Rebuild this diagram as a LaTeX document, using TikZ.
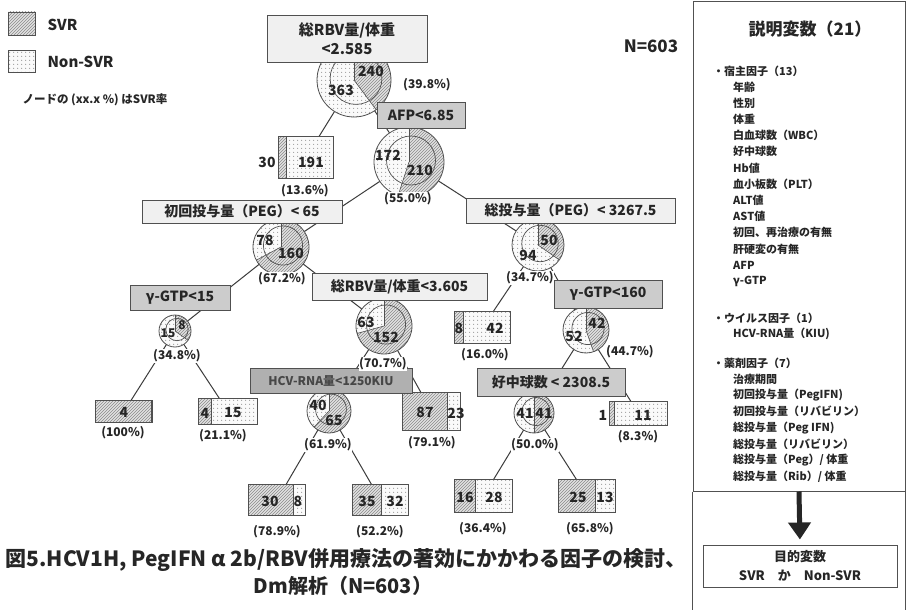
\documentclass[tikz,border=0pt]{standalone}
\usepackage{fontspec}
\setmainfont{Noto Sans CJK JP}
\usetikzlibrary{patterns,arrows.meta,calc}
\pgfdeclarelayer{back}
\pgfdeclarelayer{bg}
\pgfsetlayers{back,bg,main}
\pgfdeclarepatternformonly{mydots}{\pgfpointorigin}{\pgfpoint{4pt}{4pt}}{\pgfpoint{4pt}{4pt}}{%
  \pgfpathcircle{\pgfpoint{2pt}{2pt}}{0.75pt}\pgfusepath{fill}}
\definecolor{ink}{HTML}{262626}
\definecolor{edge}{HTML}{505050}
\definecolor{hatchbg}{HTML}{E2E2E2}
\definecolor{hatchfg}{HTML}{8A8A8A}
\definecolor{dotfg}{HTML}{A0A0A0}
\tikzset{
  svrfill/.style={preaction={fill=hatchbg}, pattern=north east lines, pattern color=hatchfg},
  nonfill/.style={preaction={fill=gray!4}, pattern=mydots, pattern color=dotfg},
  lightbox/.style={draw=edge, fill=gray!12, line width=0.9pt, inner sep=0pt, align=center,
    font=\bfseries\fontsize{14}{17}\selectfont, text=ink},
  midbox/.style={lightbox, fill=gray!40},
  darkbox/.style={lightbox, fill=gray!62, text=black!72, font=\bfseries\fontsize{12}{14}\selectfont},
  pct/.style={font=\bfseries\fontsize{12}{14}\selectfont, text=ink, fill=white, inner sep=0.5pt},
  num/.style={font=\bfseries\fontsize{14}{16}\selectfont, text=ink, inner sep=0pt},
  smallnum/.style={font=\bfseries\fontsize{12}{14}\selectfont, text=ink, inner sep=0pt},
  conn/.style={draw=ink!90, line width=1pt},
  paneltxt/.style={font=\bfseries\fontsize{11}{13}\selectfont, text=ink, inner sep=0pt, anchor=west},
  frame/.style={draw=ink!80, line width=1pt},
}
% pie: name, x, y, R, svr fraction
\newcommand\mypie[5]{%
  \node[circle, inner sep=0pt, minimum size={2*#4*1pt}, nonfill] (#1) at (#2,#3) {};
  \pgfmathsetmacro\pieend{-90+360*#5}%
  \fill[svrfill] (#1.center) -- ++(-90:#4) arc[start angle=-90, end angle=\pieend, radius=#4] -- cycle;
  \draw[edge, line width=0.6pt] (#1.center) -- ++(-90:#4);
  \draw[edge, line width=0.6pt] (#1.center) -- ++(\pieend:#4);
  \draw[edge, line width=0.7pt] ($(#1.center)+(2,-1.5)$) circle (0.7*#4);
  \draw[edge, line width=0.8pt] (#1.center) circle (#4);
}
% leaf: name, cx, cy, w, h, svr fraction
\newcommand\myleaf[6]{%
  \node[minimum width={#4*1pt}, minimum height={#5*1pt}, inner sep=0pt, nonfill] (#1) at (#2,#3) {};
  \fill[svrfill] (#1.north west) rectangle ($(#1.south west)+(#4*#6,0)$);
  \draw[edge, line width=0.8pt] ($(#1.north west)+(#4*#6,0)$) -- ($(#1.south west)+(#4*#6,0)$);
  \draw[edge, line width=0.9pt] (#1.north west) rectangle (#1.south east);
}
\begin{document}
\begin{tikzpicture}[x=1pt,y=-1pt]
\useasboundingbox (0,0) rectangle (908,610);
\begin{pgfonlayer}{back}
\fill[white] (0,0) rectangle (908,610);
\end{pgfonlayer}

% ---------- legend ----------
\node[draw=edge, line width=0.8pt, svrfill, minimum width=27pt, minimum height=23pt, inner sep=0pt] (legsvr) at (21.5,23.5) {};
\node[anchor=west, font=\bfseries\fontsize{15}{17}\selectfont, text=ink] (legsvrt) at (44,25) {SVR};
\node[draw=edge, line width=0.8pt, nonfill, minimum width=27pt, minimum height=22pt, inner sep=0pt] (legnon) at (21.5,61) {};
\node[anchor=west, font=\bfseries\fontsize{15}{17}\selectfont, text=ink] (legnont) at (44,62) {Non-SVR};
\node[anchor=west, font=\bfseries\fontsize{11.5}{13}\selectfont, text=ink] (legnote) at (19,100) {ノードの (xx.x \%) はSVR率};
\node[font=\bfseries\fontsize{17}{19}\selectfont, text=ink] (ntot) at (651,46) {N=603};

% ---------- pies ----------
\mypie{p0}{354}{80}{37}{0.398}
\mypie{p1}{409}{162}{35}{0.55}
\mypie{p2}{281}{247}{28}{0.672}
\mypie{p3}{538}{245}{26}{0.347}
\mypie{p4}{175}{331}{16}{0.348}
\mypie{p5}{384}{326}{28}{0.707}
\mypie{p6}{586}{330}{23}{0.447}
\mypie{p7}{329}{411}{22}{0.619}
\mypie{p8}{534}{413}{20}{0.5}

% ---------- leaves ----------
\myleaf{l1}{306}{157.5}{54}{41}{0.136}
\myleaf{l2}{482.5}{327.5}{55}{31}{0.16}
\myleaf{l3}{124}{411.5}{56}{21}{1.0}
\myleaf{l4}{228}{411.5}{58}{25}{0.211}
\myleaf{l5}{431.5}{411.5}{57}{37}{0.791}
\myleaf{l6}{638.5}{413.5}{57}{23}{0.083}
\myleaf{l7}{277}{500}{56}{30}{0.789}
\myleaf{l8}{380.5}{500}{55}{30}{0.522}
\myleaf{l9}{483.5}{496}{57}{32}{0.364}
\myleaf{l10}{587}{496}{56}{32}{0.658}

% ---------- split boxes ----------
\node[lightbox, minimum width=160pt, minimum height=47pt, font=\bfseries\fontsize{15}{19}\selectfont] (b0) at (347,38.5) {総RBV量/体重\\<2.585};
\node[midbox, minimum width=88pt, minimum height=26pt] (b1) at (421,115) {AFP<6.85};
\node[lightbox, minimum width=200pt, minimum height=23pt] (b2) at (242,211.5) {初回投与量（PEG）< 65};
\node[lightbox, minimum width=209pt, minimum height=25pt] (b3) at (570.5,210.5) {総投与量（PEG）< 3267.5};
\node[midbox, minimum width=100pt, minimum height=25pt] (b4) at (180,297.5) {γ-GTP<15};
\node[lightbox, minimum width=175pt, minimum height=27pt] (b5) at (399.5,286.5) {総RBV量/体重<3.605};
\node[midbox, minimum width=108pt, minimum height=28pt] (b6) at (608,294) {γ-GTP<160};
\node[darkbox, minimum width=162pt, minimum height=25pt] (b7) at (331,380.5) {HCV-RNA量<1250KIU};
\node[midbox, minimum width=148pt, minimum height=28pt] (b8) at (551,382) {好中球数 < 2308.5};

% ---------- connectors ----------
\begin{pgfonlayer}{bg}
\draw[conn] (p0.center) -- (p1.center);
\draw[conn] (p0.center) -- (l1.center);
\draw[conn] (p1.center) -- (p2.center);
\draw[conn] (p1.center) -- (p3.center);
\draw[conn] (p2.center) -- (p4.center);
\draw[conn] (p2.center) -- (p5.center);
\draw[conn] (p3.center) -- (l2.center);
\draw[conn] (p3.center) -- (p6.center);
\draw[conn] (p4.center) -- (l3.center);
\draw[conn] (p4.center) -- (l4.center);
\draw[conn] (p5.center) -- (p7.center);
\draw[conn] (p5.center) -- (l5.center);
\draw[conn] (p6.center) -- (p8.center);
\draw[conn] (p6.center) -- (l6.center);
\draw[conn] (p7.center) -- (l7.center);
\draw[conn] (p7.center) -- (l8.center);
\draw[conn] (p8.center) -- (l9.center);
\draw[conn] (p8.center) -- (l10.center);
\end{pgfonlayer}

% ---------- counts ----------
\node[num] (n0a) at (371,71) {240};
\node[num] (n0b) at (341,90) {363};
\node[num] (n1a) at (388,155) {172};
\node[num] (n1b) at (420,170) {210};
\node[num] (n2a) at (265,240) {78};
\node[num] (n2b) at (291,253) {160};
\node[num] (n3a) at (549,240) {50};
\node[num] (n3b) at (528,255) {94};
\node[smallnum] (n4a) at (168,333) {15};
\node[smallnum] (n4b) at (182,325) {8};
\node[num] (n5a) at (366,322) {63};
\node[num] (n5b) at (386,337) {152};
\node[num] (n6a) at (597,323) {42};
\node[num] (n6b) at (574,336) {52};
\node[num] (n7a) at (318,405) {40};
\node[num] (n7b) at (334,420) {65};
\node[num] (n8a) at (525,413) {41};
\node[num] (n8b) at (544,413) {41};
\node[num] (m1a) at (267,162) {30};
\node[num] (m1b) at (311,162) {191};
\node[num] (m2a) at (459,328) {8};
\node[num] (m2b) at (495,328) {42};
\node[num] (m3a) at (124,412) {4};
\node[num] (m4a) at (205,413) {4};
\node[num] (m4b) at (233,413) {15};
\node[num] (m5a) at (425,412) {87};
\node[num] (m5b) at (456,413) {23};
\node[num] (m6a) at (603,415) {1};
\node[num] (m6b) at (643,415) {11};
\node[num] (m7a) at (270,501) {30};
\node[num] (m7b) at (298,501) {8};
\node[num] (m8a) at (367,501) {35};
\node[num] (m8b) at (395,501) {32};
\node[num] (m9a) at (465,497) {16};
\node[num] (m9b) at (494,497) {28};
\node[num] (m10a) at (578,497) {25};
\node[num] (m10b) at (605,497) {13};

% ---------- percentages ----------
\node[pct] (q0) at (427,85) {(39.8\%)};
\node[pct] (q1) at (305,191) {(13.6\%)};
\node[pct] (q2) at (408,199) {(55.0\%)};
\node[pct] (q3) at (282,279) {(67.2\%)};
\node[pct] (q4) at (530,278) {(34.7\%)};
\node[pct] (q5) at (177,356) {(34.8\%)};
\node[pct] (q6) at (383,364) {(70.7\%)};
\node[pct] (q7) at (485,355) {(16.0\%)};
\node[pct] (q8) at (630,352) {(44.7\%)};
\node[pct] (q9) at (123,433) {(100\%)};
\node[pct] (q10) at (223,436) {(21.1\%)};
\node[pct] (q11) at (328,445) {(61.9\%)};
\node[pct] (q12) at (432,443) {(79.1\%)};
\node[pct] (q13) at (535,445) {(50.0\%)};
\node[pct] (q14) at (638,437) {(8.3\%)};
\node[pct] (q15) at (277,532) {(78.9\%)};
\node[pct] (q16) at (380,532) {(52.2\%)};
\node[pct] (q17) at (483,529) {(36.4\%)};
\node[pct] (q18) at (590,529) {(65.8\%)};

% ---------- caption ----------
\node[font=\bfseries\fontsize{21}{24}\selectfont, text=ink] (cap1) at (346,560) {図5.HCV1H, PegIFN α 2b/RBV併用療法の著効にかかわる因子の検討、};
\node[font=\bfseries\fontsize{20}{24}\selectfont, text=ink] (cap2) at (343,586) {Dm解析（N=603）};

% ---------- right panel ----------
\node[frame, minimum width=212pt, minimum height=489pt, inner sep=0pt] (panel) at (799,246.5) {};
\draw[frame] (panel.south west) -- ++(0,120);
\draw[frame] (panel.south east) -- ++(0,120);
\node[font=\bfseries\fontsize{17}{19}\selectfont, text=ink] (ptitle) at (810,29) {説明変数（21）};
\node[paneltxt] (g1) at (713,71) {・宿主因子（13）};
\foreach \t [count=\i from 0] in {年齢,性別,体重,白血球数（WBC）,好中球数,Hb値,血小板数（PLT）,ALT値,AST値,初回、再治療の有無,肝硬変の有無,AFP,γ-GTP}
  \node[paneltxt] (h\i) at (733,87+16.2*\i) {\t};
\node[paneltxt] (g2) at (713,318) {・ウイルス因子（1）};
\node[paneltxt] (v0) at (733,334) {HCV-RNA量（KIU)};
\node[paneltxt] (g3) at (713,363) {・薬剤因子（7）};
\foreach \t [count=\i from 0] in {治療期間,初回投与量（PegIFN),初回投与量（リバビリン）,総投与量（Peg IFN),総投与量（リバビリン）,総投与量（Peg）/ 体重,総投与量（Rib）/ 体重}
  \node[paneltxt] (d\i) at (733,379+16.3*\i) {\t};
\node[draw=ink!80, line width=1pt, minimum width=194pt, minimum height=42pt, inner sep=0pt, align=center,
  font=\bfseries\fontsize{13}{19}\selectfont, text=ink] (goal) at (800,566) {目的変数\\SVR\quad か\quad Non-SVR};
\draw[line width=5pt, ink, -{Triangle[width=22pt,length=17pt]}, shorten >=5pt] (panel.south) -- (goal.north);
\end{tikzpicture}
\end{document}
